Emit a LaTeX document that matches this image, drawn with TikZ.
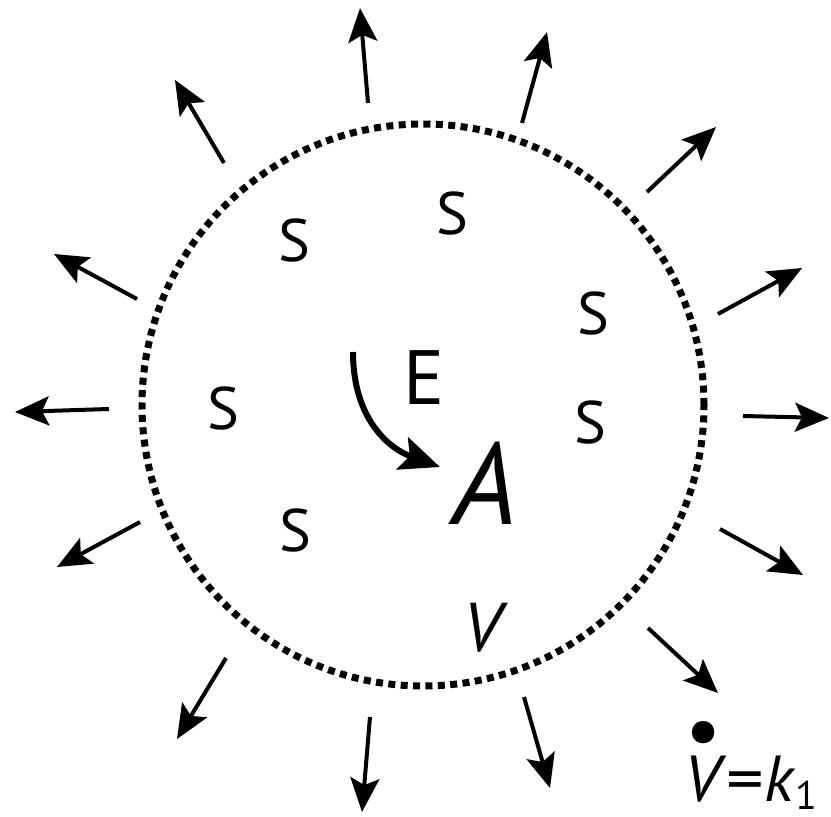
\documentclass[tikz,border=0pt]{standalone}
\usepackage{fontspec}
\setmainfont{PT Sans}
\usetikzlibrary{arrows.meta, positioning}

\tikzset{
    flux/.style={line width=4pt, -{Stealth[length=34pt, width=29pt, inset=7pt]}},
    membrane/.style={line width=7pt, dash pattern=on 7pt off 5.4pt},
    subst/.style={inner sep=0pt, font=\fontsize{60}{60}\selectfont},
}

\begin{document}
\begin{tikzpicture}[x=1pt, y=-1pt]
    \useasboundingbox (0,0) rectangle (831,817);
    \coordinate (center) at (423,405);
    \draw[membrane] (center) circle (281pt);

    % outflow arrows
    \foreach \sx/\sy/\tx/\ty in {137/299/54/254, 109/409/15/412, 140/522/57/567,
        224/163/175/80, 368/103/360/8, 522/123/547/32, 647/192/716/127,
        718/314/802/268, 743/416/829/418, 720/529/803/575, 648/628/718/693,
        524/697/550/788, 370/717/362/812, 226/658/177/739}
        \draw[flux] (\sx,\sy) -- (\tx,\ty);

    % substrate
    \node[subst] (s1) at (294,240) {S};
    \node[subst] (s2) at (452,213) {S};
    \node[subst] (s3) at (593,313) {S};
    \node[subst] (s4) at (223,408) {S};
    \node[subst] (s5) at (590,422) {S};
    \node[subst] (s6) at (295,530) {S};

    \node[inner sep=0pt, font=\fontsize{77}{77}\selectfont] (enzyme) at (424,378) {E};
    \node[inner sep=0pt, font=\fontsize{116}{116}\selectfont\itshape] (prod) at (485,483) {A};
    \node[inner sep=0pt, font=\fontsize{69}{69}\selectfont\itshape] (vol) at (482,628) {V};

    \coordinate (react) at (353,352);
    \draw[line width=6pt, -{Stealth[length=40pt, width=34pt, inset=8pt]}]
        (react) .. controls (353,420) and (390,449) .. (440,467);

    % inflow rate
    \node[inner sep=0pt, anchor=base west, font=\fontsize{65}{65}\selectfont] (rate) at (684,801)
        {\rlap{\hspace{1pt}\raisebox{44pt}{\fontsize{80}{80}\selectfont\textbullet}}%
         \textit{V}\scalebox{1.15}[1]{=}\textit{k}%
         \raisebox{-8pt}{\fontsize{40}{40}\selectfont 1}};
\end{tikzpicture}
\end{document}
